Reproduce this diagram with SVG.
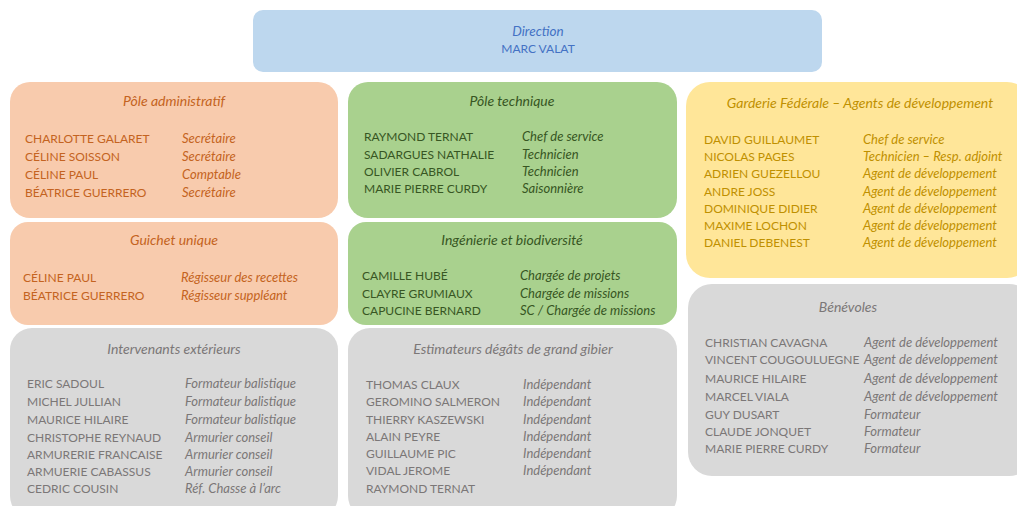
<svg xmlns="http://www.w3.org/2000/svg" width="1017" height="506" viewBox="0 0 1017 506">
<style>
text{font-family:Lato,"Liberation Sans",sans-serif;font-size:12px}
.t{font-style:italic;text-anchor:middle;font-size:14px}
.r{font-style:italic;font-size:13px}
.blue rect{fill:#BDD7EE}.blue text{fill:#4472C4}
.or rect{fill:#F8CBAD}.or text{fill:#C46321}
.gr rect{fill:#A9D18E}.gr text{fill:#375623}
.ye rect{fill:#FFE699}.ye text{fill:#BF9000}
.gy rect{fill:#D9D9D9}.gy text{fill:#7B7777}
</style>
<rect width="1017" height="506" fill="#fff"/>
<g id="connectors"/>
<g id="direction" class="blue">
<rect x="253" y="10" width="569" height="62" rx="10"/>
<text class="t" x="538" y="36" style="font-size:13.5px">Direction</text>
<text x="538" y="53" text-anchor="middle">MARC VALAT</text>
</g>
<g id="pole-administratif" class="or">
<rect x="10" y="82" width="328" height="136" rx="20"/>
<text class="t" x="174" y="106">Pôle administratif</text>
<text x="25" y="143">CHARLOTTE GALARET</text><text class="r" x="182" y="143">Secrétaire</text>
<text x="25" y="161">CÉLINE SOISSON</text><text class="r" x="182" y="161">Secrétaire</text>
<text x="25" y="179">CÉLINE PAUL</text><text class="r" x="182" y="179">Comptable</text>
<text x="25" y="197">BÉATRICE GUERRERO</text><text class="r" x="182" y="197">Secrétaire</text>
</g>
<g id="guichet-unique" class="or">
<rect x="10" y="222" width="328" height="103" rx="18"/>
<text class="t" x="174" y="245">Guichet unique</text>
<text x="23" y="282">CÉLINE PAUL</text><text class="r" x="181" y="282">Régisseur des recettes</text>
<text x="23" y="300">BÉATRICE GUERRERO</text><text class="r" x="181" y="300">Régisseur suppléant</text>
</g>
<g id="intervenants-exterieurs" class="gy">
<rect x="10" y="328" width="328" height="190" rx="22"/>
<text class="t" x="174" y="354">Intervenants extérieurs</text>
<text x="27" y="388">ERIC SADOUL</text><text class="r" x="185" y="388">Formateur balistique</text>
<text x="27" y="406">MICHEL JULLIAN</text><text class="r" x="185" y="406">Formateur balistique</text>
<text x="27" y="424">MAURICE HILAIRE</text><text class="r" x="185" y="424">Formateur balistique</text>
<text x="27" y="442">CHRISTOPHE REYNAUD</text><text class="r" x="185" y="442">Armurier conseil</text>
<text x="27" y="459">ARMURERIE FRANCAISE</text><text class="r" x="185" y="459">Armurier conseil</text>
<text x="27" y="476">ARMUERIE CABASSUS</text><text class="r" x="185" y="476">Armurier conseil</text>
<text x="27" y="493">CEDRIC COUSIN</text><text class="r" x="185" y="493">Réf. Chasse à l’arc</text>
</g>
<g id="pole-technique" class="gr">
<rect x="348" y="82" width="329" height="136" rx="20"/>
<text class="t" x="512" y="106">Pôle technique</text>
<text x="364" y="141">RAYMOND TERNAT</text><text class="r" x="522" y="141">Chef de service</text>
<text x="364" y="159">SADARGUES NATHALIE</text><text class="r" x="522" y="159">Technicien</text>
<text x="364" y="176">OLIVIER CABROL</text><text class="r" x="522" y="176">Technicien</text>
<text x="364" y="193">MARIE PIERRE CURDY</text><text class="r" x="522" y="193">Saisonnière</text>
</g>
<g id="ingenierie-biodiversite" class="gr">
<rect x="348" y="222" width="329" height="103" rx="18"/>
<text class="t" x="512" y="245">Ingénierie et biodiversité</text>
<text x="362" y="280">CAMILLE HUBÉ</text><text class="r" x="520" y="280">Chargée de projets</text>
<text x="362" y="298">CLAYRE GRUMIAUX</text><text class="r" x="520" y="298">Chargée de missions</text>
<text x="362" y="315">CAPUCINE BERNARD</text><text class="r" x="520" y="315">SC / Chargée de missions</text>
</g>
<g id="estimateurs" class="gy">
<rect x="348" y="328" width="329" height="190" rx="22"/>
<text class="t" x="513" y="354">Estimateurs dégâts de grand gibier</text>
<text x="366" y="389">THOMAS CLAUX</text><text class="r" x="523" y="389">Indépendant</text>
<text x="366" y="406">GEROMINO SALMERON</text><text class="r" x="523" y="406">Indépendant</text>
<text x="366" y="424">THIERRY KASZEWSKI</text><text class="r" x="523" y="424">Indépendant</text>
<text x="366" y="441">ALAIN PEYRE</text><text class="r" x="523" y="441">Indépendant</text>
<text x="366" y="458">GUILLAUME PIC</text><text class="r" x="523" y="458">Indépendant</text>
<text x="366" y="475">VIDAL JEROME</text><text class="r" x="523" y="475">Indépendant</text>
<text x="366" y="493">RAYMOND TERNAT</text>
</g>
<g id="garderie-federale" class="ye">
<rect x="686" y="82" width="345" height="196" rx="24"/>
<text class="t" x="860" y="108">Garderie Fédérale – Agents de développement</text>
<text x="704" y="144">DAVID GUILLAUMET</text><text class="r" x="863" y="144">Chef de service</text>
<text x="704" y="161">NICOLAS PAGES</text><text class="r" x="863" y="161">Technicien – Resp. adjoint</text>
<text x="704" y="178">ADRIEN GUEZELLOU</text><text class="r" x="863" y="178">Agent de développement</text>
<text x="704" y="196">ANDRE JOSS</text><text class="r" x="863" y="196">Agent de développement</text>
<text x="704" y="213">DOMINIQUE DIDIER</text><text class="r" x="863" y="213">Agent de développement</text>
<text x="704" y="230">MAXIME LOCHON</text><text class="r" x="863" y="230">Agent de développement</text>
<text x="704" y="247">DANIEL DEBENEST</text><text class="r" x="863" y="247">Agent de développement</text>
</g>
<g id="benevoles" class="gy">
<rect x="688" y="284" width="345" height="192" rx="24"/>
<text class="t" x="848" y="312">Bénévoles</text>
<text x="705" y="347">CHRISTIAN CAVAGNA</text><text class="r" x="864" y="347">Agent de développement</text>
<text x="705" y="364">VINCENT COUGOULUEGNE</text><text class="r" x="864" y="364">Agent de développement</text>
<text x="705" y="383">MAURICE HILAIRE</text><text class="r" x="864" y="383">Agent de développement</text>
<text x="705" y="401">MARCEL VIALA</text><text class="r" x="864" y="401">Agent de développement</text>
<text x="705" y="419">GUY DUSART</text><text class="r" x="864" y="419">Formateur</text>
<text x="705" y="436">CLAUDE JONQUET</text><text class="r" x="864" y="436">Formateur</text>
<text x="705" y="453">MARIE PIERRE CURDY</text><text class="r" x="864" y="453">Formateur</text>
</g>
</svg>
